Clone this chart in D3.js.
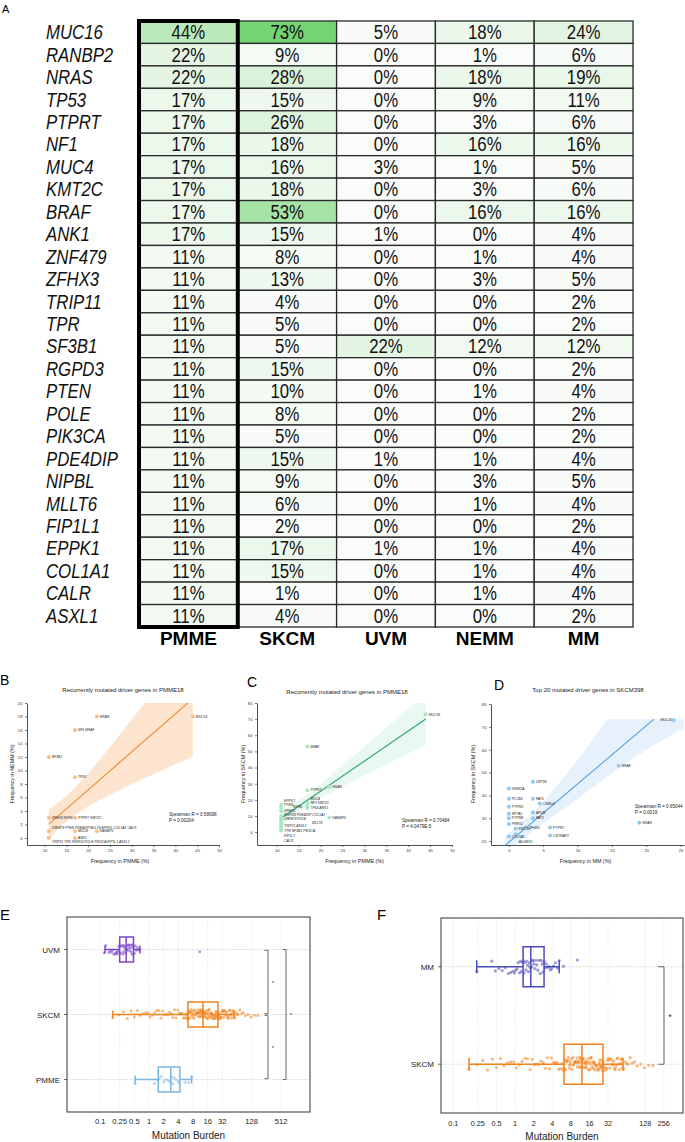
<!DOCTYPE html>
<html>
<head>
<meta charset="utf-8">
<script src="https://cdn.jsdelivr.net/npm/d3@7"></script>
<style>
body { margin: 0; background: #fff; }
svg { display: block; font-family: "Liberation Sans", Arial, sans-serif; }
</style>
</head>
<body>
<svg id="chart" width="685" height="1142"></svg>
<script>
// ---------- panel A : mutation frequency table ----------
let genes = ["MUC16", "RANBP2", "NRAS", "TP53", "PTPRT", "NF1", "MUC4", "KMT2C", "BRAF", "ANK1",
    "ZNF479", "ZFHX3", "TRIP11", "TPR", "SF3B1", "RGPD3", "PTEN", "POLE", "PIK3CA", "PDE4DIP",
    "NIPBL", "MLLT6", "FIP1L1", "EPPK1", "COL1A1", "CALR", "ASXL1"];
let cohorts = ["PMME", "SKCM", "UVM", "NEMM", "MM"];
let pmmeFreq = [44, 22, 22, 17, 17, 17, 17, 17, 17, 17, 11, 11, 11, 11, 11, 11, 11, 11, 11, 11, 11, 11, 11, 11, 11, 11, 11];
let skcmFreq = [73, 9, 28, 15, 26, 18, 16, 18, 53, 15, 8, 13, 4, 5, 5, 15, 10, 8, 5, 15, 9, 6, 2, 17, 15, 1, 4];
let uvmFreq  = [5, 0, 0, 0, 0, 0, 3, 0, 0, 1, 0, 0, 0, 0, 22, 0, 0, 0, 0, 1, 0, 0, 0, 1, 0, 0, 0];
let nemmFreq = [18, 1, 18, 9, 3, 16, 1, 3, 16, 0, 1, 3, 0, 0, 12, 0, 1, 0, 0, 1, 3, 1, 0, 1, 1, 1, 0];
let mmFreq   = [24, 6, 19, 11, 6, 16, 5, 6, 16, 4, 4, 5, 2, 2, 12, 2, 4, 2, 2, 4, 5, 4, 2, 4, 4, 4, 2];

// ---------- panel D : top 20 SKCM genes ----------
let dGenes = ["MUC16", "BRAF", "LRP1B", "GRIN2A", "FAT4", "PLCB4", "CSMD3", "PTPRD", "APOB", "SPTA1",
    "FAT3", "PTPRB", "PREX2", "ZFHX4", "PTPRT", "NRAS", "KMT2D", "CNTNAP2", "COL3A1", "ADGRV1"];
let dMM   = [24, 16, 3.5, 0, 3.5, 0, 4.5, 0, 3.5, 0, 3.5, 0, 0, 2.5, 6, 19, 1, 6, 0, 1];
let dSKCM = [73, 53, 46, 43, 38.5, 38.5, 36.5, 35, 32.5, 32, 30, 30, 27.5, 26, 26, 28, 25.5, 22.5, 22, 23];
let dFitSlope = 2.55;
let dFitIntercept = 19.5;
let dBandX  = [-0.6, 2, 4, 6, 8, 10, 12, 14, 16, 20, 25.5];
let dBandLo = [14, 21, 25.5, 30, 34, 38.5, 43, 47.5, 52, 60, 69.5];
let dBandHi = [22, 28.5, 34, 40.5, 48, 55.5, 63.5, 72, 80, 95, 115];

let statB = ["Spearman R = 0.58698", "P = 0.00204"];
let statC = ["Spearman R = 0.70484", "P = 4.0479E-5"];
let statD = ["Spearman R = 0.65044", "P = 0.0019"];

// ---------- panels E / F : mutation burden ----------
let eGroups = ["UVM", "SKCM", "PMME"];
let eLo  = [0.125, 0.18, 0.52];
let eQ1  = [0.25, 6.3, 1.55];
let eMed = [0.34, 12.8, 2.8];
let eQ3  = [0.48, 26, 4.3];
let eHi  = [0.65, 56, 7.5];
let eTicks = [0.1, 0.25, 0.5, 1, 2, 4, 8, 16, 32, 128, 512];

let fGroups = ["MM", "SKCM"];
let fLo  = [0.24, 0.18];
let fQ1  = [1.35, 6.2];
let fMed = [1.8, 12.1];
let fQ3  = [2.95, 26.5];
let fHi  = [5.2, 56];
let fTicks = [0.1, 0.25, 0.5, 1, 2, 4, 8, 16, 32, 128, 256];

let uvmTMB = [0.12, 0.13, 0.15, 0.16, 0.17, 0.18, 0.19, 0.2, 0.21, 0.22, 0.22, 0.23, 0.24, 0.25, 0.25,
    0.26, 0.27, 0.28, 0.29, 0.3, 0.3, 0.31, 0.32, 0.33, 0.34, 0.34, 0.35, 0.36, 0.37, 0.38, 0.39, 0.4,
    0.41, 0.42, 0.43, 0.44, 0.45, 0.46, 0.48, 0.5, 0.52, 0.55, 0.58, 0.62, 0.65, 11];
let pmmeTMB = [0.52, 1.3, 1.5, 1.6, 1.8, 2.0, 2.2, 2.5, 2.7, 2.9, 3.1, 3.3, 3.6, 4.0, 4.3, 5.5, 6.5, 7.5];
let mmTMB = [0.24, 0.42, 0.48, 0.55, 0.62, 0.7, 0.78, 0.85, 0.92, 0.98, 1.02, 1.08, 1.12, 1.18, 1.22,
    1.27, 1.32, 1.36, 1.4, 1.45, 1.5, 1.55, 1.6, 1.64, 1.7, 1.75, 1.8, 1.85, 1.9, 1.96, 2.02, 2.1, 2.18,
    2.25, 2.35, 2.45, 2.55, 2.65, 2.75, 2.85, 2.95, 3.05, 3.2, 3.35, 3.5, 3.7, 3.9, 4.2, 4.5, 4.9, 5.2, 6.1, 10.2];
let skcmTMB = [0.18, 0.24, 0.3, 0.36, 0.43, 0.5, 0.58, 0.66, 0.75, 0.85, 0.95, 1.05, 1.18, 1.3, 1.45, 1.6,
    1.75, 1.9, 2.05, 2.2, 2.4, 2.6, 2.85, 3.1, 3.35, 3.6, 3.9, 4.2, 4.5, 4.8, 5.1, 5.4, 5.7, 5.9, 6.1, 6.2,
    6.3, 6.4, 6.6, 6.8, 6.9, 7.1, 7.3, 7.5, 7.6, 7.8, 8.0, 8.2, 8.4, 8.6, 8.8, 9.0, 9.2, 9.4, 9.6, 9.8,
    10.0, 10.2, 10.4, 10.6, 10.8, 11.0, 11.2, 11.4, 11.6, 11.8, 12.0, 12.2, 12.4, 12.6, 12.8, 13.0,
    13.3, 13.6, 13.9, 14.0, 14.2, 14.5, 14.8, 15.2, 15.6, 16.0, 16.2, 16.4, 16.8, 17.2, 17.6, 18.0, 18.4,
    18.8, 19.0, 19.2, 19.6, 20.0, 20.5, 21.0, 21.5, 22.0, 22.5, 22.8, 23.0, 23.5, 24.0, 24.4, 24.8, 25.2,
    25.6, 26.0, 26.5, 27.2, 28.0, 28.8, 29.6, 30.5, 31.4, 32.3, 33.2, 34.2, 35.2, 36.2, 37.3, 38.4, 39.6,
    40.8, 42.0, 43.3, 44.6, 46.0, 47.5, 49.0, 50.5, 52.0, 53.5, 55.0, 58, 61, 64, 68, 73, 79, 86, 95,
    108, 124, 145, 170];

const T975 = 2.06; // t quantile, df = 25
const NARROW = 0.8; // horizontal squeeze to mimic a condensed face

let svg = d3.select('#chart');

// ================= panel A =================
svg.append('text').attr('x', 2).attr('y', 13).style('font-size', '11px').text('A');

let freqByCohort = { PMME: pmmeFreq, SKCM: skcmFreq, UVM: uvmFreq, NEMM: nemmFreq, MM: mmFreq };
let colX = d3.scaleBand().domain(cohorts).range([139, 633]);
let rowY = d3.scaleBand().domain(genes).range([21, 627]);
let cellColor = d3.scalePow().exponent(1.5).domain([0, 73]).range(['#fafcfa', '#74d474']);

let cells = [];
genes.forEach((g, i) => {
    cohorts.forEach((c) => {
        cells.push({ gene: g, cohort: c, v: freqByCohort[c][i] });
    });
});

let tbl = svg.append('g');
tbl.selectAll('rect.cell')
    .data(cells)
    .enter()
    .append('rect')
    .attr('class', 'cell')
    .attr('x', (d) => colX(d.cohort))
    .attr('y', (d) => rowY(d.gene))
    .attr('width', colX.bandwidth())
    .attr('height', rowY.bandwidth())
    .attr('fill', (d) => cellColor(d.v))
    .attr('stroke', '#2a2a2a')
    .attr('stroke-width', 1.3);

tbl.selectAll('text.val')
    .data(cells)
    .enter()
    .append('text')
    .attr('class', 'val')
    .attr('transform', (d) => 'translate(' + (colX(d.cohort) + colX.bandwidth() / 2) + ',' +
        (rowY(d.gene) + rowY.bandwidth() / 2 + 7) + ') scale(' + NARROW + ',1)')
    .attr('text-anchor', 'middle')
    .style('font-size', '21px')
    .attr('fill', '#111')
    .text((d) => d.v + '%');

tbl.selectAll('text.gene')
    .data(genes)
    .enter()
    .append('text')
    .attr('class', 'gene')
    .attr('transform', (d) => 'translate(46,' + (rowY(d) + rowY.bandwidth() / 2 + 7) + ') scale(' + NARROW + ',1)')
    .style('font-style', 'italic')
    .style('font-size', '21px')
    .attr('fill', '#111')
    .text((d) => d);

// thick frame round the PMME column
tbl.append('rect')
    .attr('x', colX('PMME'))
    .attr('y', 21)
    .attr('width', colX.bandwidth())
    .attr('height', 606)
    .attr('fill', 'none')
    .attr('stroke', '#000')
    .attr('stroke-width', 4);

tbl.selectAll('text.head')
    .data(cohorts)
    .enter()
    .append('text')
    .attr('class', 'head')
    .attr('x', (d) => colX(d) + colX.bandwidth() / 2)
    .attr('y', 645)
    .attr('text-anchor', 'middle')
    .style('font-size', '19px')
    .style('font-weight', 'bold')
    .text((d) => d);

// ================= panels B, C, D =================
let olsFit = (xs, ys) => {
    let n = xs.length;
    let mx = d3.mean(xs), my = d3.mean(ys);
    let sxx = d3.sum(xs, (v) => (v - mx) * (v - mx));
    let sxy = d3.sum(xs.map((v, i) => (v - mx) * (ys[i] - my)));
    let slope = sxy / sxx;
    let intercept = my - slope * mx;
    let sse = d3.sum(xs.map((v, i) => Math.pow(ys[i] - intercept - slope * v, 2)));
    let s = Math.sqrt(sse / (n - 2));
    let half = (v) => T975 * s * Math.sqrt(1 / n + (v - mx) * (v - mx) / sxx);
    return { slope: slope, intercept: intercept, half: half };
};

let groupPoints = (names, xs, ys) => {
    let groups = [];
    names.forEach((nm, i) => {
        let found = groups.find((g) => g.x === xs[i] && g.y === ys[i]);
        if (found) {
            found.names.push(nm);
        } else {
            groups.push({ x: xs[i], y: ys[i], names: [nm] });
        }
    });
    return groups;
};

let drawScatter = (o) => {
    let g = svg.append('g');
    let x = d3.scaleLinear().domain(o.xDomain).range(o.xRange);
    let y = d3.scaleLinear().domain(o.yDomain).range(o.yRange);

    g.append('clipPath').attr('id', 'clip' + o.id)
        .append('rect')
        .attr('x', o.xRange[0])
        .attr('y', y(o.clipTop))
        .attr('width', o.xRange[1] - o.xRange[0])
        .attr('height', o.yRange[0] - y(o.clipTop));

    let fitG = g.append('g').attr('clip-path', 'url(#clip' + o.id + ')');
    fitG.append('path')
        .datum(o.band)
        .attr('d', d3.area().x((d) => x(d.x)).y0((d) => y(d.lo)).y1((d) => y(d.hi)))
        .attr('fill', o.bandColor);
    fitG.append('path')
        .datum(o.line)
        .attr('d', d3.line().x((d) => x(d.x)).y((d) => y(d.y)))
        .attr('fill', 'none')
        .attr('stroke', o.lineColor)
        .attr('stroke-width', 1.1);

    let xAxis = g.append('g')
        .attr('transform', 'translate(0,' + o.yRange[0] + ')')
        .call(d3.axisBottom(x).tickValues(o.xTicks).tickSize(2).tickSizeOuter(0).tickPadding(2.5));
    let yAxis = g.append('g')
        .attr('transform', 'translate(' + o.xRange[0] + ',0)')
        .call(d3.axisLeft(y).tickValues(o.yTicks).tickSize(2).tickSizeOuter(0).tickPadding(2.5));
    [xAxis, yAxis].forEach((ax) => {
        ax.select('.domain').attr('stroke', '#222').attr('stroke-width', 0.8);
        ax.selectAll('.tick line').attr('stroke', '#222').attr('stroke-width', 0.6);
        ax.selectAll('.tick text').style('font-size', '4.2px').attr('fill', '#333')
            .style('font-family', '"Liberation Sans", Arial, sans-serif');
    });

    let groups = groupPoints(o.names, o.xs, o.ys);
    g.selectAll('circle')
        .data(groups)
        .enter()
        .append('circle')
        .attr('cx', (d) => x(d.x))
        .attr('cy', (d) => y(d.y))
        .attr('r', 2)
        .attr('fill', o.pointColor);

    // simple label placement to the right of the points
    let fs = 3.4;
    let cw = fs * 0.6;
    let placed = [];
    let cands = [];
    [0, 9, 18, 28].forEach((dx) => {
        [0, -1, 1, -2, 2, -3, 3].forEach((k) => cands.push([dx, k * fs * 1.05]));
    });
    groups.forEach((d) => {
        let label = d.names.join(' ');
        let w = label.length * cw;
        let px = x(d.x) + 3, py = y(d.y);
        if (px + w > 684) px = x(d.x) - 3 - w;
        let pick = cands[0];
        for (let c of cands) {
            let b = { x0: px + c[0], x1: px + c[0] + w, y0: py + c[1] - fs / 2, y1: py + c[1] + fs / 2 };
            let hit = placed.some((p) => b.x0 < p.x1 && b.x1 > p.x0 && b.y0 < p.y1 && b.y1 > p.y0);
            if (!hit) { pick = c; break; }
        }
        placed.push({ x0: px + pick[0], x1: px + pick[0] + w, y0: py + pick[1] - fs / 2, y1: py + pick[1] + fs / 2 });
        g.append('text')
            .attr('x', px + pick[0])
            .attr('y', py + pick[1] + fs * 0.36)
            .style('font-size', fs + 'px')
            .style('font-style', o.italic ? 'italic' : 'normal')
            .attr('fill', '#222')
            .text(label);
    });

    g.append('text')
        .attr('x', o.titleX).attr('y', o.titleY)
        .attr('text-anchor', 'middle')
        .style('font-size', '6px')
        .attr('fill', '#222')
        .text(o.title);
    g.append('text')
        .attr('x', (o.xRange[0] + o.xRange[1]) / 2 + o.xLabelShift).attr('y', 863)
        .attr('text-anchor', 'middle')
        .style('font-size', '5.4px')
        .attr('fill', '#222')
        .text(o.xLabel);
    g.append('text')
        .attr('transform', 'translate(' + o.yLabelX + ',774) rotate(-90)')
        .attr('text-anchor', 'middle')
        .style('font-size', '5.4px')
        .attr('fill', '#222')
        .text(o.yLabel);
    o.stats.forEach((s, i) => {
        g.append('text')
            .attr('x', o.statX).attr('y', o.statY + i * 5.8)
            .style('font-size', '4.6px')
            .attr('fill', '#222')
            .text(s);
    });
    g.append('text')
        .attr('x', o.letterX).attr('y', o.letterY)
        .style('font-size', '14px')
        .text(o.letter);
};

let fitBand = (xs, ys) => {
    let fit = olsFit(xs, ys);
    let x0 = d3.min(xs), x1 = d3.max(xs);
    let steps = d3.range(0, 41).map((k) => x0 + (x1 - x0) * k / 40);
    return {
        band: steps.map((v) => ({ x: v, lo: fit.intercept + fit.slope * v - fit.half(v), hi: fit.intercept + fit.slope * v + fit.half(v) })),
        line: [x0, x1].map((v) => ({ x: v, y: fit.intercept + fit.slope * v }))
    };
};

let fitB = fitBand(pmmeFreq, nemmFreq);
drawScatter({
    id: 'B', letter: 'B', letterX: 0, letterY: 685,
    names: genes, xs: pmmeFreq, ys: nemmFreq, italic: true,
    xDomain: [6, 50], xRange: [27, 219], yDomain: [-1.04, 20], yRange: [845, 703],
    xTicks: d3.range(10, 51, 5), yTicks: d3.range(0, 21, 2), clipTop: 20,
    band: fitB.band, line: fitB.line,
    pointColor: '#f9bd86', lineColor: '#f28a2c', bandColor: '#fde4cf',
    title: 'Recurrently mutated driver genes in PMME18', titleX: 123, titleY: 692,
    xLabel: 'Frequency in PMME (%)', xLabelShift: -3, yLabel: 'Frequency in NEMM  (%)', yLabelX: 14,
    stats: statB, statX: 169, statY: 816
});

let fitC = fitBand(pmmeFreq, skcmFreq);
drawScatter({
    id: 'C', letter: 'C', letterX: 247, letterY: 687,
    names: genes, xs: pmmeFreq, ys: skcmFreq, italic: true,
    xDomain: [5.5, 50], xRange: [257, 452], yDomain: [-8, 80], yRange: [845, 703],
    xTicks: d3.range(10, 51, 5), yTicks: d3.range(0, 81, 10), clipTop: 80,
    band: fitC.band, line: fitC.line,
    pointColor: '#a6e6c9', lineColor: '#29a372', bandColor: '#e9f8f1',
    title: 'Recurrently mutated driver genes in PMME18', titleX: 347, titleY: 694,
    xLabel: 'Frequency in PMME (%)', xLabelShift: 0, yLabel: 'Frequency in SKCM (%)', yLabelX: 245,
    stats: statC, statX: 402, statY: 822
});

drawScatter({
    id: 'D', letter: 'D', letterX: 494, letterY: 690,
    names: dGenes, xs: dMM, ys: dSKCM, italic: false,
    xDomain: [-2.6, 25.5], xRange: [491, 684], yDomain: [18.3, 80], yRange: [845, 704],
    xTicks: d3.range(0, 26, 5), yTicks: d3.range(20, 81, 10), clipTop: 73.3,
    band: dBandX.map((v, i) => ({ x: v, lo: dBandLo[i], hi: dBandHi[i] })),
    line: [-0.6, 25.5].map((v) => ({ x: v, y: dFitIntercept + dFitSlope * v })),
    pointColor: '#93c9f0', lineColor: '#5a9fdc', bandColor: '#e7f1fb',
    title: 'Top 20 mutated driver genes in SKCM398', titleX: 588, titleY: 692,
    xLabel: 'Frequency in MM (%)', xLabelShift: -2, yLabel: 'Frequency in SKCM (%)', yLabelX: 475,
    stats: statD, statX: 635, statY: 808
});

// ================= panels E, F =================
let groupColor = { UVM: '#7d45c8', SKCM: '#f2821a', PMME: '#7ab6e2', MM: '#4a4ab8' };
// vertical strip offset, a fixed scatter pattern by point index
let jitter = (i) => {
    let h = Math.sin(i * 127.1 + 311.7) * 43758.5453;
    return (h - Math.floor(h)) * 2 - 1;
};

let drawTMB = (o) => {
    let g = svg.append('g');
    let x = d3.scaleLog().base(2).domain(o.xDomain).range([o.left, o.right]);
    let y = d3.scalePoint().domain(o.groups).range([o.top, o.bottom]).padding(0.5);

    g.selectAll('line.vgrid')
        .data(o.ticks)
        .enter()
        .append('line')
        .attr('x1', (d) => x(d)).attr('x2', (d) => x(d))
        .attr('y1', o.top).attr('y2', o.bottom)
        .attr('stroke', '#d8d8d8').attr('stroke-width', 0.6).attr('stroke-dasharray', '1,1.5');
    g.selectAll('line.hgrid')
        .data(o.groups)
        .enter()
        .append('line')
        .attr('x1', o.left).attr('x2', o.right)
        .attr('y1', (d) => y(d)).attr('y2', (d) => y(d))
        .attr('stroke', '#a8a8a8').attr('stroke-width', 0.6).attr('stroke-dasharray', '1,1.5');

    o.groups.forEach((grp, gi) => {
        let col = groupColor[grp];
        let cy = y(grp);
        g.append('g').selectAll('circle')
            .data(o.points[gi])
            .enter()
            .append('circle')
            .attr('cx', (d) => x(d))
            .attr('cy', (d, i) => cy + jitter(i + gi * 97) * o.jit)
            .attr('r', o.r)
            .attr('fill', col)
            .attr('fill-opacity', 0.55);

        let bh = o.boxH;
        g.append('line')
            .attr('x1', x(o.lo[gi])).attr('x2', x(o.q1[gi]))
            .attr('y1', cy).attr('y2', cy)
            .attr('stroke', col).attr('stroke-width', 1.5);
        g.append('line')
            .attr('x1', x(o.q3[gi])).attr('x2', x(o.hi[gi]))
            .attr('y1', cy).attr('y2', cy)
            .attr('stroke', col).attr('stroke-width', 1.5);
        [o.lo[gi], o.hi[gi]].forEach((v) => {
            g.append('line')
                .attr('x1', x(v)).attr('x2', x(v))
                .attr('y1', cy - o.capH / 2).attr('y2', cy + o.capH / 2)
                .attr('stroke', col).attr('stroke-width', 1.5);
        });
        g.append('rect')
            .attr('x', x(o.q1[gi])).attr('y', cy - bh / 2)
            .attr('width', x(o.q3[gi]) - x(o.q1[gi])).attr('height', bh)
            .attr('fill', 'none').attr('stroke', col).attr('stroke-width', 1.5);
        g.append('line')
            .attr('x1', x(o.med[gi])).attr('x2', x(o.med[gi]))
            .attr('y1', cy - bh / 2).attr('y2', cy + bh / 2)
            .attr('stroke', col).attr('stroke-width', 1.5);
    });

    g.append('rect')
        .attr('x', o.left).attr('y', o.top)
        .attr('width', o.right - o.left).attr('height', o.bottom - o.top)
        .attr('fill', 'none').attr('stroke', '#333').attr('stroke-width', 1);

    g.selectAll('text.xt')
        .data(o.ticks)
        .enter()
        .append('text')
        .attr('x', (d) => x(d)).attr('y', o.tickY)
        .attr('text-anchor', 'middle')
        .style('font-size', o.tickFs + 'px')
        .attr('fill', '#222')
        .text((d) => d);
    g.append('text')
        .attr('x', (o.left + o.right) / 2).attr('y', o.titleY)
        .attr('text-anchor', 'middle')
        .style('font-size', '10px')
        .attr('fill', '#222')
        .text('Mutation Burden');

    g.selectAll('text.cat')
        .data(o.groups)
        .enter()
        .append('text')
        .attr('x', o.left - 7).attr('y', (d) => y(d) + 3)
        .attr('text-anchor', 'end')
        .style('font-size', '8px')
        .attr('fill', '#222')
        .text((d) => d);
    g.selectAll('line.cat')
        .data(o.groups)
        .enter()
        .append('line')
        .attr('x1', o.left - 3).attr('x2', o.left)
        .attr('y1', (d) => y(d)).attr('y2', (d) => y(d))
        .attr('stroke', '#333').attr('stroke-width', 0.7);

    o.brackets.forEach((b) => {
        let y1 = y(b.from) + b.pad, y2 = y(b.to) - b.pad;
        g.append('path')
            .attr('d', 'M' + (b.x - b.tick) + ',' + y1 + 'H' + b.x + 'V' + y2 + 'H' + (b.x - b.tick))
            .attr('fill', 'none').attr('stroke', '#555').attr('stroke-width', 0.9);
        g.append('text')
            .attr('x', b.x + b.starDx).attr('y', (y1 + y2) / 2 + b.starFs * 0.45)
            .attr('text-anchor', 'middle')
            .style('font-size', b.starFs + 'px')
            .attr('fill', '#333')
            .text('*');
    });

    g.append('text')
        .attr('x', o.letterX).attr('y', 920)
        .style('font-size', '15px')
        .text(o.letter);
};

drawTMB({
    letter: 'E', letterX: 0,
    groups: eGroups, lo: eLo, q1: eQ1, med: eMed, q3: eQ3, hi: eHi,
    points: [uvmTMB, skcmTMB, pmmeTMB],
    xDomain: [Math.pow(2, -5.59), Math.pow(2, 10.975)], ticks: eTicks,
    left: 67, right: 310, top: 917, bottom: 1112,
    boxH: 25, capH: 8, jit: 5, r: 1.5,
    tickY: 1124, tickFs: 7.6, titleY: 1139,
    brackets: [
        { from: 'UVM', to: 'SKCM', x: 268, tick: 3.5, pad: 0.8, starDx: 5, starFs: 6 },
        { from: 'SKCM', to: 'PMME', x: 268, tick: 3.5, pad: 0.8, starDx: 5, starFs: 6 },
        { from: 'UVM', to: 'PMME', x: 286, tick: 3, pad: 0, starDx: 5, starFs: 6 }
    ]
});

drawTMB({
    letter: 'F', letterX: 377,
    groups: fGroups, lo: fLo, q1: fQ1, med: fMed, q3: fQ3, hi: fHi,
    points: [mmTMB, skcmTMB],
    xDomain: [Math.pow(2, -3.98), Math.pow(2, 9.03)], ticks: fTicks,
    left: 441, right: 683, top: 918, bottom: 1113,
    boxH: 40, capH: 13, jit: 7, r: 1.6,
    tickY: 1126, tickFs: 7.2, titleY: 1140,
    brackets: [
        { from: 'MM', to: 'SKCM', x: 664, tick: 6, pad: 0, starDx: 6, starFs: 9 }
    ]
});
</script>
</body>
</html>
